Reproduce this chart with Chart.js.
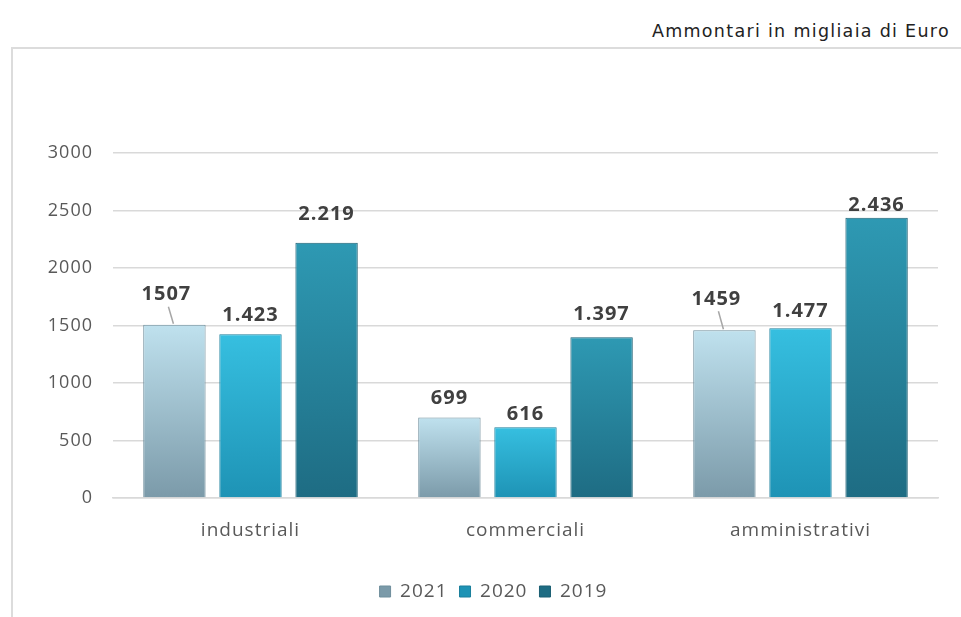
<!DOCTYPE html>
<html>
<head>
<meta charset="utf-8">
<script src="https://cdn.jsdelivr.net/npm/chart.js@4"></script>
<style>
  html, body { margin: 0; padding: 0; background: #fff; }
  body { width: 961px; height: 617px; position: relative; overflow: hidden; }
  #titolo {
    position: absolute; right: 11px; top: 21px;
    font-family: "DejaVu Sans", sans-serif; font-size: 17.5px; color: #222;
    letter-spacing: 1.3px;
  }
  #cornice {
    position: absolute; left: 11px; top: 47px; width: 960px; height: 570px;
    border-left: 2px solid #dcdcdc; border-top: 2px solid #dcdcdc;
  }
  #grafico-wrap { position: absolute; left: 0; top: 0; width: 949px; height: 568px; }
</style>
</head>
<body>
<div id="titolo">Ammontari in migliaia di Euro</div>
<div id="cornice">
  <div id="grafico-wrap"><canvas id="grafico"></canvas></div>
</div>
<script>
const categorie = ['industriali', 'commerciali', 'amministrativi'];
const anni = ['2021', '2020', '2019'];
const valori2021 = [1507, 699, 1459];
const valori2020 = [1423, 616, 1477];
const valori2019 = [2219, 1397, 2436];
const etichette2021 = ['1507', '699', '1459'];
const etichette2020 = ['1.423', '616', '1.477'];
const etichette2019 = ['2.219', '1.397', '2.436'];
const tickY = [0, 500, 1000, 1500, 2000, 2500, 3000];

// colori: [alto, basso, bordo]
const colori = [
    ['#bfe1ee', '#7b9aa9', '#6f8e9c'],
    ['#36bfe0', '#1e93b5', '#1a7f9c'],
    ['#2e99b3', '#1e6c83', '#1b5f73']
];

// gradiente per ogni barra, dalla cima alla base
function gradiente(ctx, i) {
    const chart = ctx.chart;
    const area = chart.chartArea;
    if (!area || ctx.raw === undefined) return colori[i][1];
    const y = chart.scales.y;
    const top = y.getPixelForValue(ctx.raw);
    const g = chart.ctx.createLinearGradient(0, top, 0, y.getPixelForValue(0));
    g.addColorStop(0, colori[i][0]);
    g.addColorStop(1, colori[i][1]);
    return g;
}

// distanza del centro dell'etichetta dalla cima della barra
const distanze = [[30, 19, 31], [19, 13, 17], [29, 23, 13]];
const guide = [[true, false, true], [false, false, false], [false, false, false]];

const etichettePlugin = {
    id: 'etichette',
    afterLayout(chart) {
        // legenda un po' spostata a destra come nell'originale
        chart.legend.left += 12;
        chart.legend.right += 12;
    },
    beforeDraw(chart) { chart.ctx.letterSpacing = '1px'; },
    afterDatasetsDraw(chart) {
        const ctx = chart.ctx;
        const tutte = [etichette2021, etichette2020, etichette2019];
        ctx.save();
        ctx.font = 'bold 20px "Open Sans", sans-serif';
        ctx.fillStyle = '#404040';
        ctx.textAlign = 'center';
        ctx.textBaseline = 'middle';
        chart.data.datasets.forEach((ds, d) => {
            chart.getDatasetMeta(d).data.forEach((bar, i) => {
                const dist = distanze[d][i];
                let x = bar.x;
                if (guide[d][i]) {
                    x = bar.x - 8;
                    ctx.strokeStyle = '#a6a6a6';
                    ctx.lineWidth = 1.5;
                    ctx.beginPath();
                    ctx.moveTo(bar.x - 1, bar.y - 1);
                    ctx.lineTo(bar.x - 6, bar.y - dist + 12);
                    ctx.stroke();
                }
                ctx.fillText(tutte[d][i], x, bar.y - dist);
            });
        });
        ctx.restore();
    }
};

new Chart(document.getElementById('grafico'), {
    type: 'bar',
    data: {
        labels: categorie,
        datasets: [
            { label: anni[0], data: valori2021, backgroundColor: c => gradiente(c, 0), borderColor: colori[0][2], borderWidth: 1 },
            { label: anni[1], data: valori2020, backgroundColor: c => gradiente(c, 1), borderColor: colori[1][2], borderWidth: 1 },
            { label: anni[2], data: valori2019, backgroundColor: c => gradiente(c, 2), borderColor: colori[2][2], borderWidth: 1 }
        ]
    },
    options: {
        responsive: true,
        maintainAspectRatio: false,
        animation: false,
        categoryPercentage: 0.83,
        barPercentage: 0.82,
        layout: { padding: { top: 104, right: 24, bottom: 6, left: 0 } },
        plugins: {
            legend: {
                position: 'bottom',
                labels: {
                    boxWidth: 11, boxHeight: 11, padding: 12,
                    color: '#595959',
                    font: { family: '"Open Sans", sans-serif', size: 19 },
                    generateLabels(chart) {
                        return chart.data.datasets.map((ds, i) => ({
                            text: ds.label,
                            fillStyle: colori[i][1],
                            strokeStyle: colori[i][2],
                            lineWidth: 1,
                            fontColor: '#595959',
                            datasetIndex: i
                        }));
                    }
                }
            },
            tooltip: { enabled: false }
        },
        scales: {
            x: {
                grid: { display: false },
                border: { display: true, color: '#d9d9d9', width: 1.5 },
                ticks: { color: '#595959', font: { family: '"Open Sans", sans-serif', size: 19 }, padding: 13 },
                afterFit(scale) { scale.height = 72; }
            },
            y: {
                min: 0,
                max: 3000,
                afterBuildTicks(scale) { scale.ticks = tickY.map(v => ({ value: v })); },
                grid: { color: '#d9d9d9', lineWidth: 1.5, drawTicks: false },
                border: { display: false },
                ticks: {
                    color: '#595959',
                    font: { family: '"Open Sans", sans-serif', size: 18 },
                    padding: 20,
                    callback: v => String(v)
                },
                afterFit(scale) { scale.width = 100; }
            }
        }
    },
    plugins: [etichettePlugin]
});
</script>
</body>
</html>
